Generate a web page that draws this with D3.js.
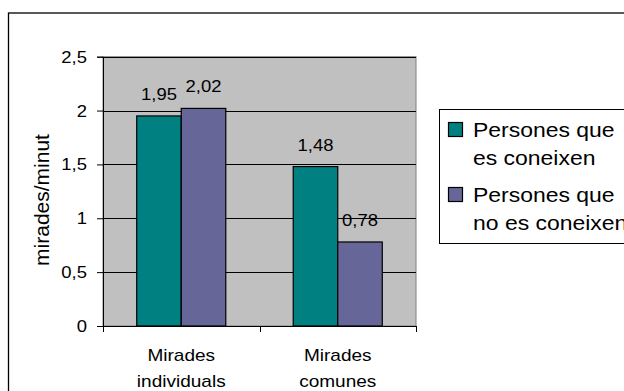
<!DOCTYPE html>
<html><head><meta charset="utf-8">
<script src="https://cdn.jsdelivr.net/npm/d3@7"></script>
<style>
html,body{margin:0;padding:0;background:#fff;}
svg{display:block;font-family:"Liberation Sans",Arial,sans-serif;}
</style></head>
<body>
<svg id="c" width="624" height="391"></svg>
<script>
const categories = [["Mirades","individuals"],["Mirades","comunes"]];
const seriesNames = [["Persones que","es coneixen"],["Persones que","no es coneixen"]];
const seriesColors = ["#008080","#666699"];
const valuesKnown = [1.95, 1.48];
const valuesUnknown = [2.02, 0.78];
const yTicks = [0,0.5,1,1.5,2,2.5];
const yTickLabels = ["0","0,5","1","1,5","2","2,5"];
const yTitle = "mirades/minut";
const series = [valuesKnown, valuesUnknown];
const fmt = v => d3.format(".2f")(v).replace(".", ",");

const svg = d3.select("#c");
const SX = 1.12; // horizontal text stretch seen in the reference
function stext(g, x, y, str, size, anchor){
  return g.append("text")
    .attr("transform", `translate(${x},${y}) scale(${SX},1)`)
    .attr("font-size", size).attr("text-anchor", anchor||"start")
    .attr("fill","#000").text(str);
}

// outer chart frame
svg.append("rect").attr("x",8.5).attr("y",13).attr("width",640).attr("height",400)
  .attr("fill","#fff").attr("stroke","#000").attr("stroke-width",1.3);

const L=103, R=416, T=56.7, B=326;
const y = d3.scaleLinear().domain([0,2.5]).range([B,T]);
const x0 = d3.scaleBand().domain(d3.range(categories.length)).range([L,R]).paddingInner(0.431).paddingOuter(0.2155);
const x1 = d3.scaleBand().domain(d3.range(series.length)).range([0,x0.bandwidth()]);

// plot area
svg.append("rect").attr("x",L).attr("y",T).attr("width",R-L).attr("height",B-T)
  .attr("fill","#C0C0C0").attr("stroke","#808080").attr("stroke-width",1);

// gridlines
svg.append("g").selectAll("line").data(yTicks.filter(d=>d>0)).join("line")
  .attr("x1",L).attr("x2",R).attr("y1",d=>Math.round(y(d))+0.5).attr("y2",d=>Math.round(y(d))+0.5)
  .attr("stroke","#000").attr("stroke-width",1);

// bars
const gb = svg.append("g");
categories.forEach((c,ci)=>{
  series.forEach((s,si)=>{
    gb.append("rect")
      .attr("x", x0(ci)+x1(si)).attr("width", x1.bandwidth())
      .attr("y", y(s[ci])).attr("height", B - y(s[ci]))
      .attr("fill", seriesColors[si]).attr("stroke","#000").attr("stroke-width",1.2);
  });
});

// y axis
const yAxis = d3.axisLeft(y).tickValues(yTicks).tickFormat((d,i)=>yTickLabels[i]).tickSize(6).tickPadding(4);
const ga = svg.append("g").attr("transform",`translate(${L},0)`).call(yAxis);
ga.select(".domain").attr("stroke","#000");
ga.selectAll(".tick line").attr("stroke","#000");
ga.selectAll(".tick text").remove();
yTicks.forEach((t,i)=>{
  stext(svg, 87, y(t)+6, yTickLabels[i], 16.5, "end");
});

// x axis
svg.append("line").attr("x1",L-6).attr("x2",R).attr("y1",B+0.5).attr("y2",B+0.5).attr("stroke","#000");
const xt = [L, (x0(0)+x0.bandwidth()+x0(1))/2, R];
svg.append("g").selectAll("line").data(xt).join("line")
  .attr("x1",d=>Math.round(d)+0.5).attr("x2",d=>Math.round(d)+0.5).attr("y1",B).attr("y2",B+6).attr("stroke","#000");

categories.forEach((c,ci)=>{
  const cx = x0(ci)+x0.bandwidth()/2;
  stext(svg, cx, 361, c[0], 17, "middle");
  stext(svg, cx, 387, c[1], 17, "middle");
});

// data labels
categories.forEach((c,ci)=>{
  series.forEach((s,si)=>{
    const cx = x0(ci)+x1(si)+x1.bandwidth()/2;
    stext(svg, cx, y(s[ci])-16, fmt(s[ci]), 16.5, "middle");
  });
});

// y title
svg.append("text").attr("transform",`translate(49,200) rotate(-90)`)
  .attr("font-size",21).attr("text-anchor","middle").text(yTitle);

// legend
svg.append("rect").attr("x",439.5).attr("y",109.5).attr("width",300).attr("height",134)
  .attr("fill","#fff").attr("stroke","#000").attr("stroke-width",1);
seriesNames.forEach((n,i)=>{
  const top = 122 + i*65;
  svg.append("rect").attr("x",448.5).attr("y",top+0.5).attr("width",14).attr("height",14)
    .attr("fill",seriesColors[i]).attr("stroke","#000").attr("stroke-width",1.2);
  stext(svg, 473, top+14.7, n[0], 20.5, "start");
  stext(svg, 473, top+43, n[1], 20.5, "start");
});
</script>
</body></html>
